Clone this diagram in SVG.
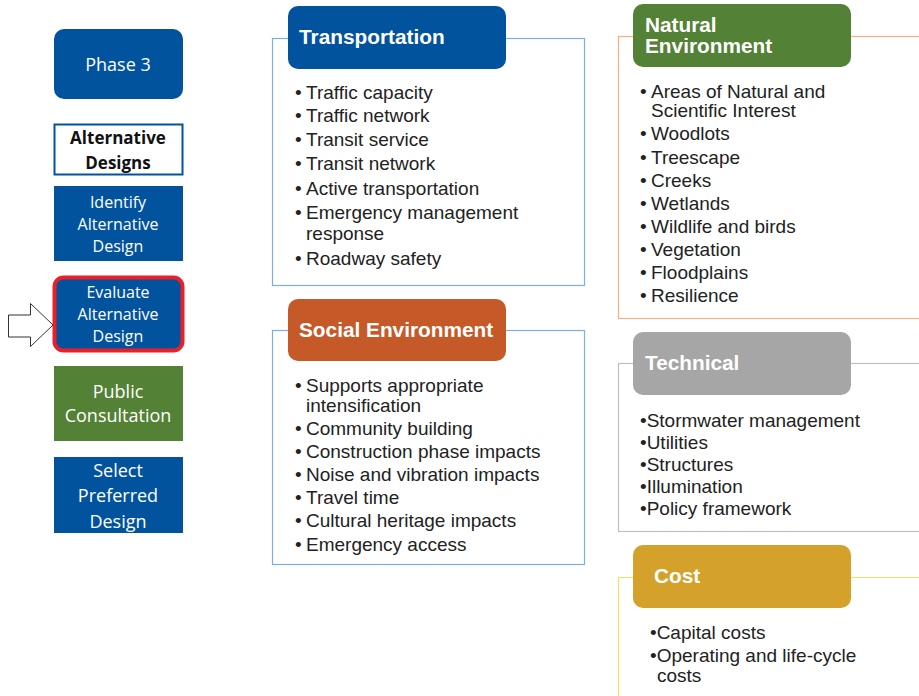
<svg xmlns="http://www.w3.org/2000/svg" width="919" height="696" viewBox="0 0 919 696">
<style>
.blue{fill:#02539E}
.lt{font-family:"Open Sans","Liberation Sans",sans-serif;fill:#fff;text-anchor:middle}
.hd{font-family:"Liberation Sans",Arial,sans-serif;font-weight:bold;fill:#fff;font-size:20.8px}
.it{font-family:"Liberation Sans",Arial,sans-serif;fill:#222;font-size:19px}
.it2{font-family:"Liberation Sans",Arial,sans-serif;fill:#222;font-size:19px}
</style>
<rect width="919" height="696" fill="#fff"/>
<g id="phase3">
<rect x="54" y="29" width="129" height="70" rx="10" class="blue"/>
<text x="118" y="71" class="lt" font-size="18">Phase 3</text>
</g>
<g id="alt-designs">
<rect x="54.5" y="124.5" width="128" height="50" fill="#fff" stroke="#02539E" stroke-width="2"/>
<text x="118" y="144" font-family="Open Sans,Liberation Sans,sans-serif" font-weight="bold" font-size="17" text-anchor="middle" fill="#111">Alternative</text>
<text x="118" y="169" font-family="Open Sans,Liberation Sans,sans-serif" font-weight="bold" font-size="17" text-anchor="middle" fill="#111">Designs</text>
</g>
<g id="identify">
<rect x="54" y="186" width="129" height="75" class="blue"/>
<text x="118" y="208" class="lt" font-size="16">Identify</text>
<text x="118" y="230" class="lt" font-size="16">Alternative</text>
<text x="118" y="252" class="lt" font-size="16">Design</text>
</g>
<g id="evaluate">
<rect x="54.5" y="277.5" width="128" height="73" rx="9" class="blue" stroke="#E8202A" stroke-width="4"/>
<text x="118" y="298" class="lt" font-size="16">Evaluate</text>
<text x="118" y="320" class="lt" font-size="16">Alternative</text>
<text x="118" y="342" class="lt" font-size="16">Design</text>
</g>
<g id="pointer">
<polygon points="8.5,315 30.5,315 30.5,303.5 53,325 30.5,346.5 30.5,337 8.5,337" fill="#fff" stroke="#333" stroke-width="1"/>
</g>
<g id="public">
<rect x="54" y="366" width="129" height="75" fill="#538135"/>
<text x="118" y="398" class="lt" font-size="18">Public</text>
<text x="118" y="422" class="lt" font-size="18">Consultation</text>
</g>
<g id="select">
<rect x="54" y="457" width="129" height="76" class="blue"/>
<text x="118" y="477" class="lt" font-size="18">Select</text>
<text x="118" y="502" class="lt" font-size="18">Preferred</text>
<text x="118" y="528" class="lt" font-size="18">Design</text>
</g>

<g id="transportation">
<rect x="272.5" y="38.5" width="312" height="247" fill="none" stroke="#7EAEDD" stroke-width="1.2"/>
<rect x="288" y="6" width="218" height="63" rx="10" class="blue"/>
<text x="299" y="44" class="hd">Transportation</text>
<g class="it">
<text x="295" y="99">•</text><text x="306" y="99">Traffic capacity</text>
<text x="295" y="122">•</text><text x="306" y="122">Traffic network</text>
<text x="295" y="146">•</text><text x="306" y="146">Transit service</text>
<text x="295" y="170">•</text><text x="306" y="170">Transit network</text>
<text x="295" y="195">•</text><text x="306" y="195">Active transportation</text>
<text x="295" y="219">•</text><text x="306" y="219">Emergency management</text>
<text x="306" y="240">response</text>
<text x="295" y="265">•</text><text x="306" y="265">Roadway safety</text>
</g>
</g>

<g id="social">
<rect x="272.5" y="330.5" width="312" height="234" fill="none" stroke="#7EAEDD" stroke-width="1.2"/>
<rect x="288" y="299" width="218" height="62" rx="10" fill="#C55A28"/>
<text x="299" y="337" class="hd">Social Environment</text>
<g class="it">
<text x="295" y="392">•</text><text x="306" y="392">Supports appropriate</text>
<text x="306" y="412">intensification</text>
<text x="295" y="435">•</text><text x="306" y="435">Community building</text>
<text x="295" y="458">•</text><text x="306" y="458">Construction phase impacts</text>
<text x="295" y="481">•</text><text x="306" y="481">Noise and vibration impacts</text>
<text x="295" y="504">•</text><text x="306" y="504">Travel time</text>
<text x="295" y="527">•</text><text x="306" y="527">Cultural heritage impacts</text>
<text x="295" y="551">•</text><text x="306" y="551">Emergency access</text>
</g>
</g>

<g id="natural">
<rect x="618.5" y="36.5" width="310" height="282" fill="none" stroke="#F4B183" stroke-width="1.2"/>
<rect x="633" y="4" width="218" height="63" rx="10" fill="#538135"/>
<text x="645" y="32" class="hd">Natural</text>
<text x="645" y="53" class="hd">Environment</text>
<g class="it">
<text x="640" y="98">•</text><text x="651" y="98">Areas of Natural and</text>
<text x="651" y="117">Scientific Interest</text>
<text x="640" y="140">•</text><text x="651" y="140">Woodlots</text>
<text x="640" y="164">•</text><text x="651" y="164">Treescape</text>
<text x="640" y="187">•</text><text x="651" y="187">Creeks</text>
<text x="640" y="210">•</text><text x="651" y="210">Wetlands</text>
<text x="640" y="233">•</text><text x="651" y="233">Wildlife and birds</text>
<text x="640" y="256">•</text><text x="651" y="256">Vegetation</text>
<text x="640" y="279">•</text><text x="651" y="279">Floodplains</text>
<text x="640" y="302">•</text><text x="651" y="302">Resilience</text>
</g>
</g>

<g id="technical">
<rect x="618.5" y="363.5" width="310" height="168" fill="none" stroke="#BFBFBF" stroke-width="1.2"/>
<rect x="633" y="332" width="218" height="63" rx="10" fill="#A6A6A6"/>
<text x="645" y="370" class="hd">Technical</text>
<g class="it2">
<text x="640" y="427">•Stormwater management</text>
<text x="640" y="449">•Utilities</text>
<text x="640" y="471">•Structures</text>
<text x="640" y="493">•Illumination</text>
<text x="640" y="515">•Policy framework</text>
</g>
</g>

<g id="cost">
<path d="M618.5,700 V577.5 H633 M851,577.5 H925" fill="none" stroke="#FFD966" stroke-width="1.2"/>
<rect x="633" y="545" width="218" height="63" rx="10" fill="#D4A12A"/>
<text x="654" y="583" class="hd">Cost</text>
<g class="it2">
<text x="650" y="639">•Capital costs</text>
<text x="650" y="662">•Operating and life-cycle</text>
<text x="657" y="682">costs</text>
</g>
</g>
</svg>
